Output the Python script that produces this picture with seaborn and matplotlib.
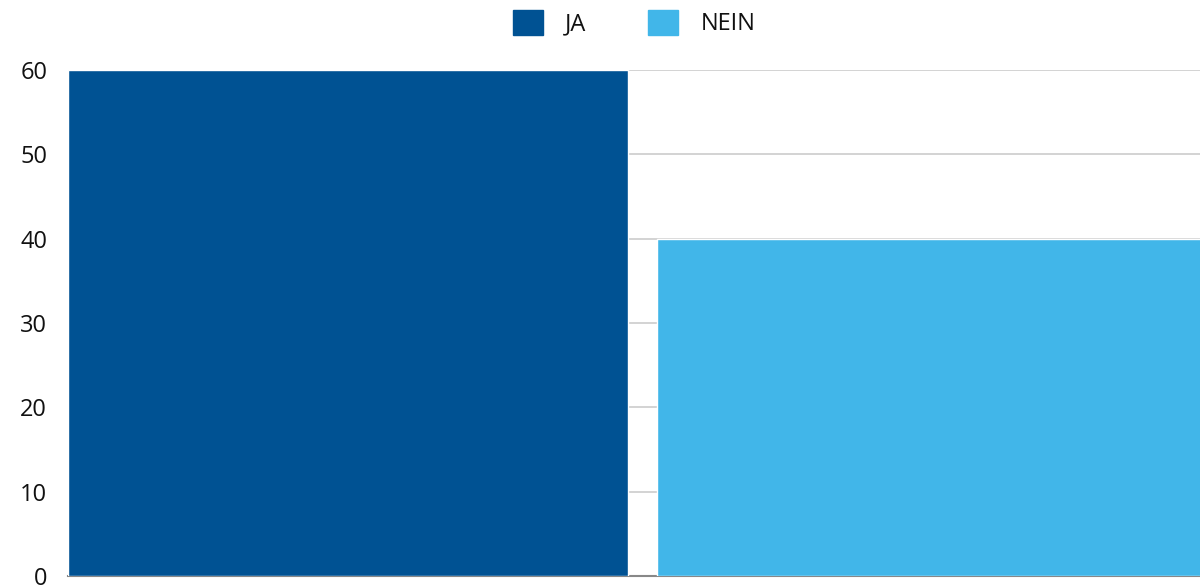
import matplotlib
matplotlib.use("Agg")
import matplotlib.pyplot as plt
import seaborn as sns
import pandas as pd
from matplotlib.patches import Patch

categories = ["JA", "NEIN"]
values = [60, 40]
colors = ["#005293", "#41B6E9"]
yticks = [0, 10, 20, 30, 40, 50, 60]

df = pd.DataFrame({"group": ["" for _ in categories], "answer": categories, "value": values})

sns.set_theme(style="white")
plt.rcParams["font.family"] = ["Open Sans", "DejaVu Sans"]

W, H = 1200, 585
fig = plt.figure(figsize=(W / 100, H / 100), dpi=100)
ax = fig.add_axes([68 / W, 9 / H, (1200 - 68) / W, (576 - 70) / H])

sns.barplot(data=df, x="group", y="value", hue="answer", palette=colors,
            width=1.0, gap=0.0492, dodge=True, ax=ax, legend=False,
            saturation=1, zorder=3)

ax.set_xlim(-0.4877, 0.4733)
ax.set_ylim(0, 60)
ax.set_yticks(yticks)
ax.set_yticklabels([str(t) for t in yticks], fontsize=17, color="#111111")
ax.set_xticks([])
ax.set_xlabel("")
ax.set_ylabel("")
ax.tick_params(axis="y", length=0, pad=15)
ax.yaxis.grid(True, color="#cccccc", linewidth=1.2, zorder=0)
ax.set_axisbelow(True)
for s in ["top", "right", "left"]:
    ax.spines[s].set_visible(False)
ax.spines["bottom"].set_color("#888888")
ax.spines["bottom"].set_linewidth(1.5)
ax.spines["bottom"].set_zorder(1)

handles = [Patch(facecolor=c, edgecolor=c) for c in colors]
fig.legend(handles, categories, loc="center", bbox_to_anchor=(634 / W, 1 - 23 / H),
           ncol=2, frameon=False, fontsize=17, handlelength=1.27, handleheight=1.27,
           handletextpad=0.95, columnspacing=2.6, labelcolor="#111111")

fig.savefig("out.png", dpi=100)
